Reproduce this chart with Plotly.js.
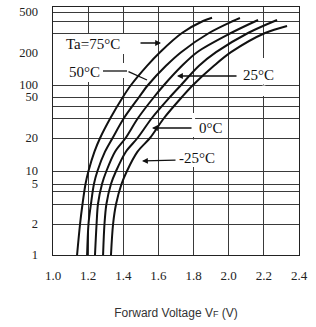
<!DOCTYPE html>
<html>
<head>
<meta charset="utf-8">
<script src="https://cdn.plot.ly/plotly-3.0.1.min.js"></script>
<style>html,body{margin:0;padding:0;background:#fff;}#chart{width:316px;height:327px;}</style>
</head>
<body>
<div id="chart"></div>
<script>
// ---- data (forward current IF in mA vs forward voltage VF in V) ----
const curr75 = [1, 2, 3, 5, 10, 15, 20, 30, 50, 100, 150, 200, 300, 400, 434];
const volt75 = [1.137, 1.154, 1.168, 1.185, 1.202, 1.236, 1.268, 1.327, 1.398, 1.444, 1.535, 1.609, 1.734, 1.854, 1.905];
const curr50 = [1, 2, 3, 5, 10, 15, 20, 30, 50, 100, 150, 200, 300, 400, 431];
const volt50 = [1.194, 1.202, 1.216, 1.233, 1.253, 1.296, 1.339, 1.404, 1.490, 1.541, 1.643, 1.729, 1.888, 2.025, 2.064];
const curr25 = [1, 2, 3, 5, 10, 15, 20, 30, 50, 100, 150, 200, 300, 410];
const volt25 = [1.239, 1.248, 1.256, 1.279, 1.304, 1.353, 1.413, 1.484, 1.575, 1.632, 1.734, 1.820, 2.013, 2.167];
const curr0 = [1, 2, 3, 5, 10, 15, 20, 30, 50, 100, 150, 200, 300, 410];
const volt0 = [1.285, 1.293, 1.304, 1.330, 1.359, 1.415, 1.481, 1.563, 1.666, 1.729, 1.831, 1.928, 2.110, 2.275];
const currM25 = [1, 2, 3, 5, 10, 15, 20, 30, 50, 100, 150, 200, 300, 355];
const voltM25 = [1.330, 1.342, 1.359, 1.390, 1.421, 1.481, 1.552, 1.632, 1.734, 1.797, 1.916, 2.013, 2.207, 2.332];
const seriesNames = ["Ta=75°C", "50°C", "25°C", "0°C", "-25°C"];
const xTickLabels = ["1.0", "1.2", "1.4", "1.6", "1.8", "2.0", "2.2", "2.4"];
const yTickLabels = [1, 2, 5, 10, 20, 50, 100, 200, 500];
const yGridCurrents = [1, 2, 3, 4, 5, 10, 20, 30, 40, 50, 100, 300, 400, 500];

// ---- the chart's own (irregular) current scale: current -> axis height ----
const scaleCurrents = [1, 2, 3, 4, 5, 10, 20, 30, 40, 50, 100, 300, 400, 500];
const scaleHeights  = [0, 31, 51, 64, 71, 84, 117, 137, 149, 158, 170, 222, 234, 243];
function toAxis(I) {
  const L = Math.log10(I);
  let k = 0;
  while (k < scaleCurrents.length - 2 && I > scaleCurrents[k + 1]) k++;
  const l0 = Math.log10(scaleCurrents[k]), l1 = Math.log10(scaleCurrents[k + 1]);
  return scaleHeights[k] + (L - l0) / (l1 - l0) * (scaleHeights[k + 1] - scaleHeights[k]);
}

const serif = "Liberation Serif, Times New Roman, serif";
const curves = [[volt75, curr75], [volt50, curr50], [volt25, curr25], [volt0, curr0], [voltM25, currM25]];
const traces = curves.map((c, i) => ({
  type: "scatter", mode: "lines", name: seriesNames[i],
  x: c[0], y: c[1].map(toAxis),
  line: {color: "#111", width: 2, shape: "spline", smoothing: 0.9},
  hoverinfo: "skip", showlegend: false
}));
traces.push({type: "scatter", x: [], y: [], yaxis: "y2", showlegend: false, hoverinfo: "skip"});

const gridC = "#3a3a3a";
const yTop = 248;
function px2v(p) { return 1 + (p - 53) * 0.2 / 35.14; }
function py2u(p) { return 255 - p; }
function arrow(tx, ty, hx, hy, head) {
  return {x: px2v(hx), y: py2u(hy), ax: px2v(tx), ay: py2u(ty), xref: "x", yref: "y", axref: "x", ayref: "y",
    text: "", showarrow: true, arrowhead: head, arrowsize: 0.9, arrowwidth: 1.3, arrowcolor: "#111", standoff: 0};
}
function label(t, cx, cy) {
  return {x: px2v(cx), y: py2u(cy), xref: "x", yref: "y", text: t, showarrow: false,
    font: {family: serif, size: 15, color: "#111"}};
}
function gap(xv, y0, y1) {
  return {type: "line", layer: "between", xref: "x", yref: "y", x0: xv, x1: xv, y0: py2u(y0), y1: py2u(y1),
    line: {color: "#fff", width: 3}};
}

const layout = {
  width: 316, height: 327,
  margin: {l: 53, r: 17, t: 7, b: 72, pad: 0},
  paper_bgcolor: "#fff", plot_bgcolor: "#fff",
  showlegend: false,
  xaxis: {
    range: [1.0, 2.4], tickmode: "array", tickvals: xTickLabels.map(Number), ticktext: xTickLabels,
    showgrid: true, gridcolor: gridC, gridwidth: 1, zeroline: false,
    showline: true, linecolor: "#222", linewidth: 1, mirror: true, ticks: "",
    ticklabelstandoff: 8,
    tickfont: {family: serif, size: 13, color: "#222"},
    title: {text: "Forward Voltage V<span style='font-size:9px'>F</span> (V)", standoff: 27,
      font: {family: "Liberation Sans, Arial, sans-serif", size: 12, color: "#333"}},
    fixedrange: true
  },
  yaxis: {
    range: [0, yTop], tickmode: "array", tickvals: yGridCurrents.map(toAxis),
    showticklabels: false, showgrid: true, gridcolor: gridC, gridwidth: 1, zeroline: false,
    showline: true, linecolor: "#222", linewidth: 1, mirror: true, ticks: "", fixedrange: true
  },
  yaxis2: {
    overlaying: "y", side: "left", range: [0, yTop], tickmode: "array",
    tickvals: yTickLabels.map(toAxis), ticktext: yTickLabels.map(String),
    showgrid: false, zeroline: false, showline: false, ticks: "", ticklabelstandoff: 14,
    tickfont: {family: serif, size: 12.5, color: "#222"}, fixedrange: true
  },
  shapes: [
    gap(1.2, 34, 82), gap(1.4, 34, 54), gap(1.4, 63, 78),
    gap(1.8, 113, 137), gap(1.8, 139.5, 167), gap(2.2, 58, 84.5), gap(2.2, 85.5, 96),
    {type: "line", layer: "above", xref: "x", yref: "y", x0: px2v(103), x1: px2v(127), y0: py2u(71), y1: py2u(71),
      line: {color: "#111", width: 1.3}}
  ],
  annotations: [
    label("Ta=75°C", 93, 44), label("50°C", 84, 72), label("25°C", 258, 75),
    label("0°C", 211, 128), label("-25°C", 197, 158),
    arrow(139, 43, 161, 43, 2), arrow(127, 71, 147, 80, 0), arrow(238, 76, 177, 76, 2),
    arrow(193, 128, 152, 128, 2), arrow(177, 160, 142, 161, 2)
  ]
};
Plotly.newPlot("chart", traces, layout, {staticPlot: true, displayModeBar: false});
</script>
</body>
</html>
